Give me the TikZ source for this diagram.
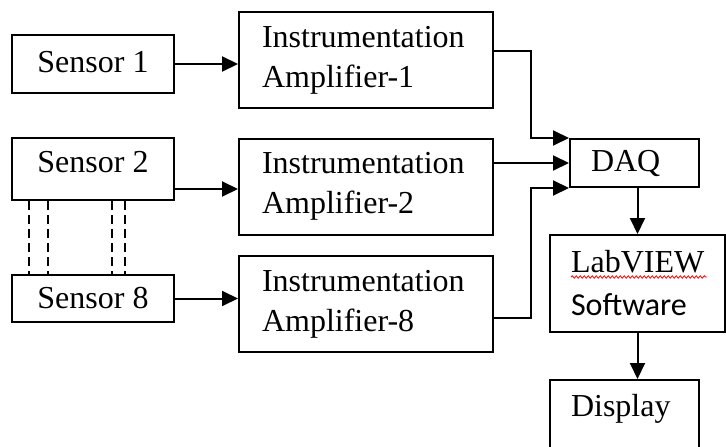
\documentclass[tikz,border=0pt]{standalone}
\usepackage{fontspec}
\setmainfont{Liberation Serif}
\newfontfamily\swfont{Carlito}
\usetikzlibrary{arrows.meta,decorations.pathmorphing}

\begin{document}
\begin{tikzpicture}[x=1pt,y=-1pt,line width=2pt,
    font=\fontsize{32}{40}\selectfont,
    sensorbox/.style={draw,minimum width=162pt,inner sep=0pt},
    ampbox/.style={draw,minimum width=254pt,minimum height=96pt,inner xsep=23pt,inner ysep=0pt,text width=208pt,align=left},
    blockbox/.style={draw,inner xsep=21pt,inner ysep=0pt,align=left},
    arr/.style={-{Triangle[length=16pt,width=15pt]}}]
\useasboundingbox (0,0) rectangle (726,447);
\node [sensorbox,minimum height=58pt,text depth=4pt] (s1) at (93,64) {Sensor 1};
\node [sensorbox,minimum height=62pt,text depth=14pt] (s2) at (93,169) {Sensor 2};
\node [sensorbox,minimum height=47pt] (s8) at (93,298.5) {Sensor 8};
\node [ampbox] (amp1) at (366,60) {Instrumentation\\Amplifier-1};
\node [ampbox] (amp2) at (366,186.5) {Instrumentation\\Amplifier-2};
\node [ampbox] (amp8) at (366,304) {Instrumentation\\Amplifier-8};
\node [blockbox,minimum width=129pt,minimum height=48pt,text width=87pt] (daq) at (634.5,163) {DAQ};
\node [blockbox,minimum width=175pt,minimum height=97pt,text width=133pt] (lab) at (637.5,283.5) {LabVIEW\\[3pt]{\swfont Software}};
\node [blockbox,minimum width=149pt,minimum height=70pt,text width=107pt,text depth=20pt] (disp) at (624.5,415) {Display};
\draw [red,line width=0.8pt,decorate,decoration={snake,amplitude=1.2pt,segment length=4pt}] (571,277) -- (707,277);
\foreach \dx in {18,37,101,114}
    \draw [line width=1.8pt,dash pattern=on 9pt off 5pt] ([xshift=\dx pt]s2.south west) -- ([xshift=\dx pt]s8.north west);
\coordinate (s2out) at ([yshift=12pt]s2.south east);
\coordinate (a1out) at ([yshift=9pt]amp1.east);
\coordinate (a8out) at ([yshift=-14pt]amp8.east);
\draw [arr] (s1.east) -- (s1.east -| amp1.west);
\draw [arr] (s2out) -- (s2out -| amp2.west);
\draw [arr] (s8.east) -- (s8.east -| amp8.west);
\draw [arr] (a1out) -- ++(37,0) |- (daq.north west);
\draw [arr] (daq.west -| amp2.east) -- (daq.west);
\draw [arr] (a8out) -- ++(37,0) |- (daq.south west);
\draw [arr] (lab.north |- daq.south) -- (lab.north);
\draw [arr] (lab.south) -- (lab.south |- disp.north);
\end{tikzpicture}
\end{document}
